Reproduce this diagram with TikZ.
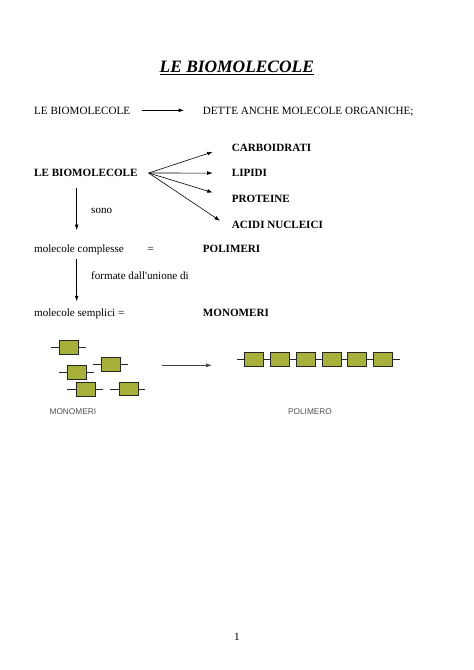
\documentclass[tikz,border=0pt]{standalone}
\usepackage{fontspec}
\setmainfont{Liberation Serif}
\newfontfamily\figfont{Liberation Sans}
\usetikzlibrary{arrows.meta}
\pgfdeclarelayer{bg}
\pgfsetlayers{bg,main}
\definecolor{unitgreen}{RGB}{168,176,60}
\definecolor{captiongray}{RGB}{80,80,80}
\tikzset{
    every node/.style={inner sep=0pt, anchor=base west, text depth=0pt, font=\fontsize{11.1}{13}\selectfont}
}
\tikzset{
    term/.style={font=\fontsize{11.1}{13}\selectfont\bfseries},
    arr/.style={-{Latex[length=5.5pt, width=3.8pt]}, line width=0.6pt},
    unit/.style={anchor=center, draw=black!85, fill=unitgreen, line width=0.6pt, minimum width=19pt, minimum height=13.5pt},
    bond/.style={line width=0.6pt, draw=black!85},
    caption/.style={anchor=base, font=\figfont\fontsize{8.3}{10}\selectfont, text=captiongray}
}

\begin{document}
\begin{tikzpicture}[x=1pt, y=-1pt]
        \useasboundingbox (0, 0) rectangle (474, 670);
        \node (title) [anchor=base, font=\fontsize{17.4}{20}\selectfont\bfseries\itshape] at (236.8, 72.5) {\underline{LE BIOMOLECOLE}};
        \node (b0) at (34, 114) {LE BIOMOLECOLE};
        \node (d0) at (202.7, 114) {DETTE ANCHE MOLECOLE ORGANICHE;};
        \node (bm) [term] at (34, 176.7) {LE BIOMOLECOLE};
        \node (c1) [term] at (231.7, 151.7) {CARBOIDRATI};
        \node (c2) [term] at (231.7, 176.7) {LIPIDI};
        \node (c3) [term] at (231.7, 202.7) {PROTEINE};
        \node (c4) [term] at (231.7, 228.3) {ACIDI NUCLEICI};
        \node (sono) at (91, 213.3) {sono};
        \node (mc) at (34, 252.5) {molecole complesse};
        \node (eq) at (147.3, 252.5) {=};
        \node (pol) [term] at (202.7, 252.5) {POLIMERI};
        \node (form) at (91, 279.3) {formate dall\textquotesingle unione di};
        \node (ms) at (34, 316.7) {molecole semplici =};
        \node (mon) [term] at (202.7, 316.7) {MONOMERI};
        \draw ([xshift=11.7pt]b0.east) edge [arr] ([xshift=-18.7pt]d0.west);
        \draw ([xshift=11pt]bm.east) edge [arr] ([xshift=-19pt]c1.south west);
        \draw ([xshift=11pt]bm.east) edge [arr] ([xshift=-19pt]c2.west);
        \draw ([xshift=11pt]bm.east) edge [arr] ([xshift=-19pt, yshift=2.6pt]c3.north west);
        \draw ([xshift=11pt]bm.east) edge [arr] ([xshift=-11.7pt]c4.north west);
        \draw ([xshift=42.7pt, yshift=-10.6pt]bm.south west) edge [arr] ([xshift=42.7pt, yshift=14.5pt]mc.north west);
        \draw ([xshift=42.7pt, yshift=-6pt]mc.south west) edge [arr] ([xshift=42.7pt, yshift=7.5pt]ms.north west);
        % monomeri sparsi
        \node (m1) [unit] at (69, 347.3) {};
        \node (m2) [unit] at (111, 364.2) {};
        \node (m3) [unit] at (77.2, 372.5) {};
        \node (m4) [unit] at (85.7, 389.2) {};
        \node (m5) [unit] at (128.5, 389) {};
        % catena del polimero
        \foreach \i in {0,...,5}
                \node (p\i) [unit] at (254+25.8*\i, 359.2) {};
        \begin{pgfonlayer}{bg}
                \foreach \i in {1,...,5}
                        \draw [bond] ([xshift=-8.5pt]m\i.west) -- ([xshift=7pt]m\i.east);
                \draw [bond] ([xshift=-7.2pt]p0.west) -- ([xshift=6.8pt]p5.east);
        \end{pgfonlayer}
        \coordinate (g0) at (161.7, 365.3);
        \coordinate (g1) at (211.7, 365.3);
        \draw (g0) edge [arr, draw=black!75, line width=0.45pt] (g1);
        \node (capm) [caption] at (72.9, 414.7) {MONOMERI};
        \node (capp) [caption] at (310, 414.5) {POLIMERO};
        \node (page) [anchor=base] at (237, 640.7) {1};
\end{tikzpicture}
\end{document}
